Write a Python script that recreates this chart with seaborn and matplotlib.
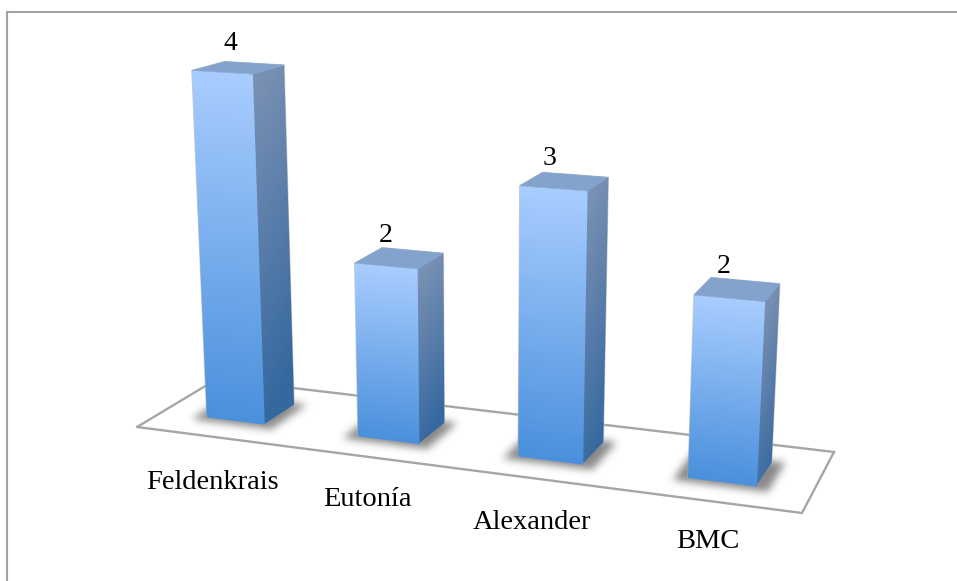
import numpy as np
import matplotlib
matplotlib.use("Agg")
import matplotlib.pyplot as plt
from matplotlib.patches import Polygon
from matplotlib.path import Path
import seaborn as sns

# Chart data
methods = ["Feldenkrais", "Eutonía", "Alexander", "BMC"]
counts = [4, 2, 3, 2]

# Text placement on the canvas (pixels)
method_label_xy = [(212, 489), (367.5, 506), (531.5, 529), (708, 548)]
count_label_xy = [(230, 50), (386, 242), (549, 165), (724, 273)]

WIDTH, HEIGHT = 957, 581
BAR_WIDTH = 0.39
DEPTH_FRONT, DEPTH_BACK = 0.30, 0.70

sns.set_theme(style="white")
plt.rcParams["font.family"] = ["Liberation Serif", "DejaVu Serif"]

fig = plt.figure(figsize=(WIDTH / 100, HEIGHT / 100), dpi=100, facecolor="white")

# Bar geometry comes from seaborn on a hidden categorical axes
data_ax = fig.add_axes([0, 0, 1, 1])
sns.barplot(x=methods, y=counts, width=BAR_WIDTH, ax=data_ax)
bars = [(r.get_x(), r.get_width(), r.get_height()) for r in data_ax.patches]
data_ax.set_visible(False)

# Canvas in pixel coordinates for the projected scene
canvas = fig.add_axes([0, 0, 1, 1])
canvas.set_xlim(0, WIDTH)
canvas.set_ylim(HEIGHT, 0)
canvas.axis("off")


def floor_homography(a, b, c, d):
    """Map the unit square (u along categories, v into depth) onto a floor quad."""
    (x0, y0), (x1, y1), (x2, y2), (x3, y3) = a, b, c, d
    dx1, dx2, sx = x1 - x2, x3 - x2, x0 - x1 + x2 - x3
    dy1, dy2, sy = y1 - y2, y3 - y2, y0 - y1 + y2 - y3
    den = dx1 * dy2 - dx2 * dy1
    g = (sx * dy2 - dx2 * sy) / den
    h = (dx1 * sy - sx * dy1) / den
    return np.array([
        [x1 - x0 + g * x1, x3 - x0 + h * x3, x0],
        [y1 - y0 + g * y1, y3 - y0 + h * y3, y0],
        [g, h, 1.0],
    ])


FLOOR = [(137, 427), (802, 513), (834, 452), (217, 379)]
H = floor_homography(*FLOOR)
VANISH = np.array([482.0, 6800.0, 1.0])
CAMERA = np.column_stack([H[:, 0], H[:, 1], -0.0131 * VANISH, H[:, 2]])


def project(u, v, z):
    p = CAMERA @ np.array([u, v, z, 1.0])
    return p[:2] / p[2]


def hex_rgb(s):
    return np.array(matplotlib.colors.to_rgb(s))


FRONT_TOP, FRONT_BOTTOM = hex_rgb("#A9CDFF"), hex_rgb("#4A90DC")
SIDE_TOP, SIDE_BOTTOM = hex_rgb("#7890B3"), hex_rgb("#35689F")
TOP_FACE = hex_rgb("#84A3CC")


def shaded_face(tl, tr, bl, br, c_top, c_bot, zorder, slant=0.0, bleed=0.0):
    """Fill a quad with a gradient image running from its top edge to its bottom edge.

    bleed widens the clip to the left so the next face drawn leaves no seam.
    """
    corners = np.array([tl, tr, br, bl])
    x0, y0 = np.floor(corners.min(axis=0)).astype(int) - 3
    x1, y1 = np.ceil(corners.max(axis=0)).astype(int) + 3
    ys, xs = np.mgrid[y0:y1, x0:x1] + 0.5
    fx = (xs - tl[0]) / (tr[0] - tl[0])
    top_edge = tl[1] + (tr[1] - tl[1]) * fx
    bottom_edge = bl[1] + (br[1] - bl[1]) * fx
    t = np.clip((ys - top_edge) / (bottom_edge - top_edge) + slant * (fx - 0.5), 0, 1)
    img = c_top[None, None, :] * (1 - t[..., None]) + c_bot[None, None, :] * t[..., None]
    im = canvas.imshow(img, extent=(x0, x1, y1, y0), zorder=zorder,
                       interpolation="bilinear", aspect="auto")
    outline = corners.copy()
    outline[[0, 3], 0] -= bleed
    im.set_clip_path(Polygon(outline, closed=True, transform=canvas.transData))


def gaussian_blur(img, sigma):
    radius = int(3 * sigma)
    xs = np.arange(-radius, radius + 1)
    kernel = np.exp(-xs ** 2 / (2 * sigma ** 2))
    kernel /= kernel.sum()
    img = np.apply_along_axis(lambda r: np.convolve(r, kernel, mode="same"), 0, img)
    return np.apply_along_axis(lambda r: np.convolve(r, kernel, mode="same"), 1, img)


# Frame along the top and left of the chart area
canvas.plot([7, WIDTH], [12, 12], color="#A3A3A3", lw=1.5, solid_capstyle="butt", zorder=1)
canvas.plot([7, 7], [11.3, HEIGHT], color="#A3A3A3", lw=1.5, solid_capstyle="butt", zorder=1)

# Floor outline
floor_x, floor_y = zip(*(FLOOR + FLOOR[:1]))
canvas.plot(floor_x, floor_y, color="#A6A6A6", lw=1.7, solid_joinstyle="miter", zorder=2)

# Soft contact shadows on the floor
n = len(bars)
yy, xx = np.mgrid[0:HEIGHT, 0:WIDTH]
pixels = np.column_stack([xx.ravel() + 0.5, yy.ravel() + 0.5])
mask = np.zeros((HEIGHT, WIDTH))
for x, w, _ in bars:
    u0, u1 = (x + 0.5) / n, (x + w + 0.5) / n
    quad = [project(u0 - 0.018, DEPTH_FRONT - 0.06, 0), project(u1 + 0.018, DEPTH_FRONT - 0.06, 0),
            project(u1 + 0.018, DEPTH_BACK + 0.03, 0), project(u0 - 0.018, DEPTH_BACK + 0.03, 0)]
    mask = np.maximum(mask, Path(quad).contains_points(pixels).reshape(HEIGHT, WIDTH).astype(float))
alpha = gaussian_blur(mask, 4.0) * 0.75
rgba = np.zeros((HEIGHT, WIDTH, 4))
rgba[..., :3] = 0.38
rgba[..., 3] = alpha
canvas.imshow(rgba, extent=(0, WIDTH, HEIGHT, 0), zorder=3, interpolation="bilinear", aspect="auto")

# Prisms: each bar's width and height come from the seaborn rectangles
for x, w, value in bars:
    u0, u1 = (x + 0.5) / n, (x + w + 0.5) / n
    fl_b, fr_b = project(u0, DEPTH_FRONT, 0), project(u1, DEPTH_FRONT, 0)
    br_b = project(u1, DEPTH_BACK, 0)
    fl_t, fr_t = project(u0, DEPTH_FRONT, value), project(u1, DEPTH_FRONT, value)
    br_t, bl_t = project(u1, DEPTH_BACK, value), project(u0, DEPTH_BACK, value)
    # Faint halo along the upper silhouette
    halo = np.array([fl_b, fl_t, bl_t, br_t, br_b])
    canvas.plot(halo[:, 0], halo[:, 1], color="#B4B4B4", lw=0.9, alpha=0.7, zorder=3.5)
    shaded_face(fr_t, br_t, fr_b, br_b, SIDE_TOP, SIDE_BOTTOM, 4, slant=0.12, bleed=1.5)
    shaded_face(fl_t, fr_t, fl_b, fr_b, FRONT_TOP, FRONT_BOTTOM, 4.1)
    canvas.add_patch(Polygon([fl_t, fr_t, br_t, bl_t], closed=True, facecolor=TOP_FACE,
                             edgecolor=TOP_FACE, linewidth=0.4, zorder=5))

canvas.set_xlim(0, WIDTH)
canvas.set_ylim(HEIGHT, 0)

for name, (tx, ty) in zip(methods, method_label_xy):
    canvas.text(tx, ty, name, ha="center", va="baseline", fontsize=20.5,
                color="black", zorder=6)
for value, (tx, ty) in zip(counts, count_label_xy):
    canvas.text(tx, ty, str(value), ha="center", va="baseline", fontsize=20,
                color="black", zorder=6)

fig.savefig("out.png", dpi=100)
